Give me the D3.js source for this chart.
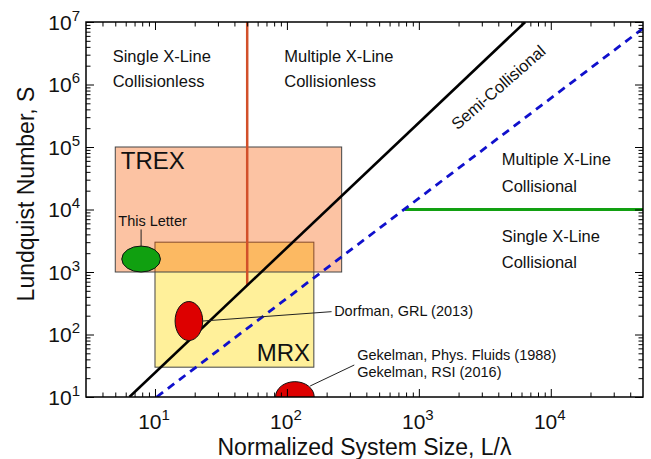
<!DOCTYPE html>
<html>
<head>
<meta charset="utf-8">
<script src="https://cdn.jsdelivr.net/npm/d3@7"></script>
<style>
  body { margin: 0; background: #fff; }
  text { font-family: "Liberation Sans", Arial, Helvetica, sans-serif; fill: #111; }
</style>
</head>
<body>
<div id="chart-area"></div>
<script>
// axis limits and labelled ticks
const xDomain = [3, 5e4];
const yDomain = [10, 1e7];
const xTickValues = [10, 100, 1000, 10000];
const yTickValues = [10, 100, 1e3, 1e4, 1e5, 1e6, 1e7];

// experiment boxes: L/lambda range, S range
const boxNames = ["MRX", "TREX"];
const boxX = [[10, 160], [5, 260]];
const boxS = [[30, 3e3], [1e3, 1e5]];
const boxLabelPos = [[59, 37.7], [5.5, 4.4e4]];

// boundary lines [L/lambda, S]
const semiLine = [[6.4, 10], [6400, 1e7]];          // black solid
const collLine = [[10.3, 10], [5e4, 7.9e6]];        // blue dashed
const collXLine = [[785, 1e4], [5e4, 1e4]];         // green
const collessXLine = [[50, 1e7], [50, 610]];        // red

// experiment ellipses: L/lambda range, S range
const expX = [[5.6, 11], [14.2, 23], [82, 161]];
const expS = [[1e3, 2.6e3], [80, 337], [5.7, 17.6]];
const expColor = ["#10a010", "#dd0000", "#dd0000"];

// region labels
const regionText = [
  ["Single X-Line", "Collisionless"],
  ["Multiple X-Line", "Collisionless"],
  ["Multiple X-Line", "Collisional"],
  ["Single X-Line", "Collisional"]
];
const regionPos = [
  [[4.78, 2.32e6], [4.78, 9.0e5]],
  [[95.5, 2.32e6], [95.5, 9.0e5]],
  [[4250, 5.15e4], [4250, 1.93e4]],
  [[4250, 3.05e3], [4250, 1.15e3]]
];

let margin = { left: 86, right: 8, top: 22, bottom: 62 };
let width = 651 - margin.left - margin.right,
    height = 459 - margin.top - margin.bottom;

let svg = d3.select("#chart-area")
  .append("svg")
    .attr("width", 651)
    .attr("height", 459);

let g = svg.append("g")
    .attr("transform", `translate(${margin.left}, ${margin.top})`);

let x = d3.scaleLog().domain(xDomain).range([0, width]);
let y = d3.scaleLog().domain(yDomain).range([height, 0]);

g.append("defs").append("clipPath").attr("id", "clip")
  .append("rect").attr("width", width).attr("height", height);

let plot = g.append("g").attr("clip-path", "url(#clip)");

// boxes (MRX opaque yellow, TREX translucent orange on top)
const boxFill = ["#fff09a", "#f65a00"];
const boxOpacity = [1, 0.36];
boxNames.forEach((name, i) => {
  plot.append("rect")
    .attr("x", x(boxX[i][0]))
    .attr("y", y(boxS[i][1]))
    .attr("width", x(boxX[i][1]) - x(boxX[i][0]))
    .attr("height", y(boxS[i][0]) - y(boxS[i][1]))
    .attr("fill", boxFill[i])
    .attr("fill-opacity", boxOpacity[i])
    .attr("stroke", "#444")
    .attr("stroke-width", 1);
});
boxNames.forEach((name, i) => {
  g.append("text")
    .attr("x", x(boxLabelPos[i][0]))
    .attr("y", y(boxLabelPos[i][1]))
    .attr("font-size", "24px")
    .text(name);
});

let line = d3.line().x(d => x(d[0])).y(d => y(d[1]));

plot.append("path").datum(collessXLine).attr("d", line)
  .attr("stroke", "#d2502a").attr("stroke-width", 2.5).attr("fill", "none");
plot.append("path").datum(collXLine).attr("d", line)
  .attr("stroke", "#12a012").attr("stroke-width", 3).attr("fill", "none");
plot.append("path").datum(semiLine).attr("d", line)
  .attr("stroke", "#000").attr("stroke-width", 2.6).attr("fill", "none");
plot.append("path").datum(collLine).attr("d", line)
  .attr("stroke", "#1010cc").attr("stroke-width", 2.8)
  .attr("stroke-dasharray", "8,6").attr("fill", "none");

// ellipses
let ell = expX.map((xr, i) => ({
  cx: (x(xr[0]) + x(xr[1])) / 2,
  cy: (y(expS[i][0]) + y(expS[i][1])) / 2,
  rx: (x(xr[1]) - x(xr[0])) / 2,
  ry: (y(expS[i][0]) - y(expS[i][1])) / 2,
  c: expColor[i]
}));
plot.selectAll("ellipse").data(ell).join("ellipse")
  .attr("cx", d => d.cx).attr("cy", d => d.cy)
  .attr("rx", d => d.rx).attr("ry", d => d.ry)
  .attr("fill", d => d.c).attr("stroke", "#111").attr("stroke-width", 1);

// leader lines + annotation text
let lead = g.append("g").attr("stroke", "#222").attr("stroke-width", 1);
lead.append("line")
  .attr("x1", ell[0].cx).attr("y1", ell[0].cy - ell[0].ry)
  .attr("x2", ell[0].cx).attr("y2", y(4.8e3));
lead.append("line")
  .attr("x1", ell[1].cx + ell[1].rx).attr("y1", ell[1].cy)
  .attr("x2", x(218)).attr("y2", y(232));
lead.append("line")
  .attr("x1", x(150)).attr("y1", y(15))
  .attr("x2", x(324)).attr("y2", y(32.5));

const noteText = ["This Letter", "Dorfman, GRL (2013)",
  "Gekelman, Phys. Fluids (1988)", "Gekelman, RSI (2016)"];
const notePos = [[5.27, 5.45e3], [228, 198], [341, 39], [341, 20.9]];
g.selectAll(".note").data(noteText).join("text")
  .attr("class", "note")
  .attr("x", (d, i) => x(notePos[i][0]))
  .attr("y", (d, i) => y(notePos[i][1]))
  .attr("font-size", "14.5px")
  .text(d => d);

// region labels
regionText.forEach((pair, i) => {
  pair.forEach((t, j) => {
    g.append("text")
      .attr("x", x(regionPos[i][j][0]))
      .attr("y", y(regionPos[i][j][1]))
      .attr("font-size", "16.5px")
      .text(t);
  });
});

g.append("text")
  .attr("transform", `translate(${x(4000)}, ${y(9e5)}) rotate(-41)`)
  .attr("text-anchor", "middle")
  .attr("dy", "0.35em")
  .attr("font-size", "16.5px")
  .text("Semi-Collisional");

// ticks on all four sides, pointing inward
let minor = (dom) => {
  let out = [];
  for (let k = -1; k < 8; k++) {
    for (let m = 2; m <= 9; m++) {
      let v = m * Math.pow(10, k);
      if (v > dom[0] && v < dom[1]) out.push(v);
    }
  }
  return out;
};
let xMinor = minor(xDomain), yMinor = minor(yDomain);

let axes = [
  [d3.axisBottom, x, `translate(0, ${height})`, xTickValues, xMinor],
  [d3.axisTop, x, "translate(0, 0)", xTickValues, xMinor],
  [d3.axisLeft, y, "translate(0, 0)", yTickValues, yMinor],
  [d3.axisRight, y, `translate(${width}, 0)`, yTickValues, yMinor]
];
axes.forEach(a => {
  let maj = g.append("g").attr("transform", a[2])
    .call(a[0](a[1]).tickValues(a[3]).tickSize(-8).tickSizeOuter(0).tickFormat(""));
  let mn = g.append("g").attr("transform", a[2])
    .call(a[0](a[1]).tickValues(a[4]).tickSize(-4.5).tickSizeOuter(0).tickFormat(""));
  [maj, mn].forEach(s => {
    s.select(".domain").remove();
    s.selectAll("line").attr("stroke", "#000").attr("stroke-width", 1);
  });
});

// frame
g.append("rect")
  .attr("width", width).attr("height", height)
  .attr("fill", "none").attr("stroke", "#000").attr("stroke-width", 1.5);

// tick labels 10^n
let xl = g.append("g").selectAll("text").data(xTickValues).join("text")
  .attr("x", d => x(d) - 1)
  .attr("y", height + 32)
  .attr("text-anchor", "middle")
  .attr("font-size", "21px");
xl.append("tspan").text("10");
xl.append("tspan").attr("font-size", "15px").attr("dy", -9)
  .text(d => Math.round(Math.log10(d)));

let yl = g.append("g").selectAll("text").data(yTickValues).join("text")
  .attr("x", -6)
  .attr("y", d => y(d))
  .attr("dy", 7.5)
  .attr("text-anchor", "end")
  .attr("font-size", "21px");
yl.append("tspan").text("10");
yl.append("tspan").attr("font-size", "15px").attr("dy", -9)
  .text(d => Math.round(Math.log10(d)));

// axis titles
g.append("text")
  .attr("x", width / 2)
  .attr("y", height + 58)
  .attr("text-anchor", "middle")
  .attr("font-size", "23px")
  .text("Normalized System Size, L/λ");

g.append("text")
  .attr("x", -172)
  .attr("y", -52.5)
  .attr("text-anchor", "middle")
  .attr("transform", "rotate(-90)")
  .attr("font-size", "23px")
  .text("Lundquist Number, S");
</script>
</body>
</html>
